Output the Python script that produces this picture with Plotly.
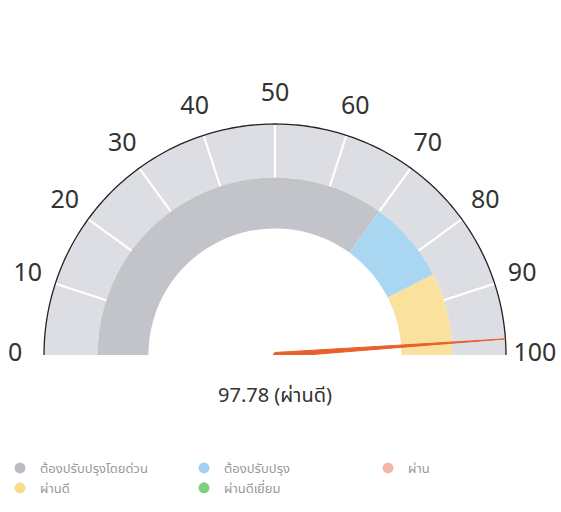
import plotly.graph_objects as go

# Gauge data
score = 97.78
score_label = "ผ่านดี"
tick_values = [0, 10, 20, 30, 40, 50, 60, 70, 80, 90, 100]
band_names = ["ต้องปรับปรุงโดยด่วน", "ต้องปรับปรุง", "ผ่านดี"]
band_starts = [0, 70, 85]
band_ends = [70, 85, 100]
band_colors = ["#c2c4ca", "#a9d7f2", "#fae19e"]

legend_names = ["ต้องปรับปรุงโดยด่วน", "ต้องปรับปรุง", "ผ่าน", "ผ่านดี", "ผ่านดีเยี่ยม"]
legend_colors = ["#b9bcc3", "#9fd3f3", "#f6b7ab", "#f8dc8e", "#7fcf7f"]

# ring radii (fraction of the outer rim radius)
R_OUT, R_MID, R_IN = 1.0, 0.768, 0.548
R_LABEL = 1.125
R_MAX = 1.17          # radial range, leaves room for the scale labels

# dial placement in pixels
CX, CY, RIM_PX, W, H = 275, 355, 231, 561, 512
SUB_PX = RIM_PX * R_MAX


def ang(v):
    """Gauge value (0-100) -> polar angle in degrees (0 on the left, 100 on the right)."""
    return 180 - v * 1.8


fig = go.Figure()

# outer light ring
fig.add_trace(go.Barpolar(
    theta=[ang(50)], r=[R_OUT - R_MID], base=[R_MID], width=[180],
    marker=dict(color="#dcdee3", line=dict(width=0)),
    showlegend=False, hoverinfo="skip",
))

# white division lines on the outer ring
tick_r, tick_t = [], []
for v in tick_values[1:-1]:
    tick_r += [R_MID, R_OUT, None]
    tick_t += [ang(v), ang(v), None]
fig.add_trace(go.Scatterpolar(
    r=tick_r, theta=tick_t, mode="lines",
    line=dict(color="white", width=2.2),
    showlegend=False, hoverinfo="skip",
))

# inner coloured band
fig.add_trace(go.Barpolar(
    theta=[ang((a + b) / 2) for a, b in zip(band_starts, band_ends)],
    width=[(b - a) * 1.8 for a, b in zip(band_starts, band_ends)],
    r=[R_MID - R_IN] * len(band_starts), base=[R_IN] * len(band_starts),
    marker=dict(color=band_colors, line=dict(width=0)),
    showlegend=False, hoverinfo="skip",
))

# dark rim along the outer edge of the dial
rim_steps = list(range(0, 181))
fig.add_trace(go.Scatterpolar(
    r=[R_OUT] * len(rim_steps), theta=rim_steps, mode="lines",
    line=dict(color="#222", width=1.3),
    showlegend=False, hoverinfo="skip",
))

# scale labels, centred on a circle just outside the rim
fig.add_trace(go.Scatterpolar(
    r=[R_LABEL] * len(tick_values), theta=[ang(v) for v in tick_values],
    mode="text", text=[str(v) for v in tick_values],
    textposition="middle center",
    textfont=dict(size=25, color="#333"),
    showlegend=False, hoverinfo="skip", cliponaxis=False,
))

# needle: tapered wedge from the centre to the outer rim
half = 0.011
fig.add_trace(go.Scatterpolar(
    r=[half, R_OUT, half, half * 0.8, half],
    theta=[ang(score) + 90, ang(score), ang(score) - 90, ang(score) + 180, ang(score) + 90],
    mode="lines", fill="toself", fillcolor="#e8602a",
    line=dict(color="#e8602a", width=1),
    showlegend=False, hoverinfo="skip",
))

# legend entries
for name, col in zip(legend_names, legend_colors):
    fig.add_trace(go.Scatterpolar(
        r=[None], theta=[None], mode="markers", name=name,
        marker=dict(color=col, size=11, symbol="circle"),
    ))

fig.update_layout(
    width=W, height=H,
    margin=dict(l=0, r=0, t=0, b=0),
    paper_bgcolor="white",
    font=dict(family="Noto Sans, Noto Sans Thai, sans-serif", color="#333"),
    polar=dict(
        domain=dict(x=[(CX - SUB_PX) / W, (CX + SUB_PX) / W],
                    y=[1 - CY / H, 1 - (CY - SUB_PX) / H]),
        sector=[0, 180],
        hole=0,
        bgcolor="rgba(0,0,0,0)",
        radialaxis=dict(visible=False, range=[0, R_MAX]),
        angularaxis=dict(visible=False, showgrid=False, showline=False),
    ),
    legend=dict(
        orientation="h", x=0, xanchor="left", y=1 - 453 / H, yanchor="top",
        entrywidth=139, entrywidthmode="pixels",
        font=dict(size=13, color="#999"),
        itemclick=False, itemdoubleclick=False,
    ),
    annotations=[dict(
        text=f"{score} ({score_label})",
        x=CX / W, y=1 - 394 / H, xref="paper", yref="paper",
        xanchor="center", yanchor="middle",
        showarrow=False, font=dict(size=20, color="#333"),
    )],
)

fig.write_html("out.html")
